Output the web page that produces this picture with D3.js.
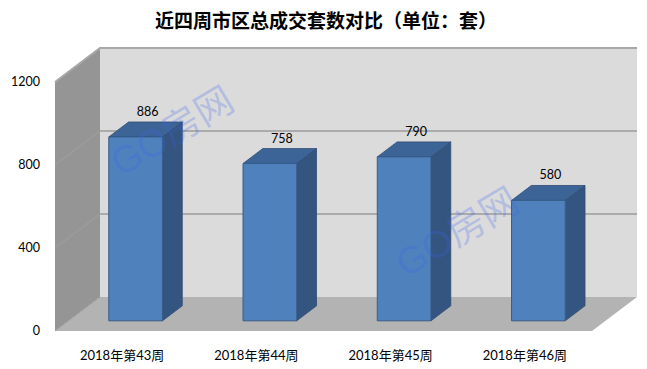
<!DOCTYPE html>
<html>
<head>
<meta charset="utf-8">
<script src="https://d3js.org/d3.v7.min.js"></script>
<style>
  body { margin: 0; background: #fff; }
  svg { display: block; }
</style>
</head>
<body>
<div id="chart"></div>
<script>
// data
var categories = ["2018年第43周", "2018年第44周", "2018年第45周", "2018年第46周"];
var values = [886, 758, 790, 580];
var yTicks = [0, 400, 800, 1200];
var title = "近四周市区总成交套数对比（单位：套）";
var watermark = "GO房网";

var width = 647, height = 369;

// front plane of the 3D box
var x0 = 55, x1 = 592, yBottom = 331, yTop = 82;
// depth offset of the back wall
var depthX = 45, depthY = 34;

var svg = d3.select("#chart").append("svg")
  .attr("width", width)
  .attr("height", height);

var x = d3.scaleBand().domain(categories).range([x0, x1]).paddingInner(0).paddingOuter(0);
var y = d3.scaleLinear().domain([0, 1200]).range([yBottom, yTop]);

// project a front-plane point back by depth fraction d
function P(px, py, d) { return [px + d * depthX, py - d * depthY]; }
function poly(pts) { return "M" + pts.map(function(p) { return p.join(","); }).join("L") + "Z"; }

var yMax = y(1200), y0 = y(0);

// back wall
svg.append("path")
  .attr("d", poly([P(x0, yMax, 1), P(x1, yMax, 1), P(x1, y0, 1), P(x0, y0, 1)]))
  .attr("fill", "#dbdbdb");

// side wall
svg.append("path")
  .attr("d", poly([P(x0, yMax, 0), P(x0, yMax, 1), P(x0, y0, 1), P(x0, y0, 0)]))
  .attr("fill", "#959595");

// floor
svg.append("path")
  .attr("d", poly([P(x0, y0, 0), P(x0, y0, 1), P(x1, y0, 1), P(x1, y0, 0)]))
  .attr("fill", "#b3b3b3");

// gridlines on back and side walls
yTicks.forEach(function(t) {
  if (t === 0) return;
  var a = P(x0, y(t), 0), b = P(x0, y(t), 1), c = P(x1, y(t), 1);
  svg.append("path")
    .attr("d", "M" + a.join(",") + "L" + b.join(",") + "L" + c.join(","))
    .attr("fill", "none")
    .attr("stroke", t === 1200 ? "#a8a8a8" : "#9c9c9c")
    .attr("stroke-width", t === 1200 ? 2 : 1.5);
});

// bottom edge of side wall / floor front
svg.append("path")
  .attr("d", "M" + P(x0, y0, 1).join(",") + "L" + P(x0, y0, 0).join(","))
  .attr("stroke", "#a0a0a0").attr("fill", "none");

// y axis labels
svg.selectAll(".ylab").data(yTicks).enter().append("text")
  .attr("x", 40)
  .attr("y", function(d) { return y(d); })
  .attr("dy", "0.35em")
  .attr("text-anchor", "end")
  .attr("font-family", "Lato, 'Liberation Sans', sans-serif")
  .attr("font-size", 12.5)
  .attr("fill", "#000")
  .text(function(d) { return d; });

// bars
var dFront = 0.3, dBack = 0.74, barFrac = 0.4;
var bars = svg.selectAll(".bar").data(values).enter().append("g");

bars.each(function(v, i) {
  var g = d3.select(this);
  var c = x(categories[i]) + x.bandwidth() / 2;
  var w = x.bandwidth() * barFrac;
  var l = c - w / 2, r = c + w / 2;
  var top = y(v);
  // side face
  g.append("path")
    .attr("d", poly([P(r, top, dFront), P(r, top, dBack), P(r, y0, dBack), P(r, y0, dFront)]))
    .attr("fill", "#34557f").attr("stroke", "#2e4c73").attr("stroke-width", 0.8);
  // top face
  g.append("path")
    .attr("d", poly([P(l, top, dFront), P(l, top, dBack), P(r, top, dBack), P(r, top, dFront)]))
    .attr("fill", "#3d6496").attr("stroke", "#2e4c73").attr("stroke-width", 0.8);
  // front face
  g.append("path")
    .attr("d", poly([P(l, top, dFront), P(r, top, dFront), P(r, y0, dFront), P(l, y0, dFront)]))
    .attr("fill", "#4f81bd").attr("stroke", "#385d8a").attr("stroke-width", 1);
  // value label
  var lp = P(c, top, (dFront + dBack) / 2);
  g.append("text")
    .attr("x", lp[0] + 2)
    .attr("y", P(c, top, dBack)[1] - 6)
    .attr("text-anchor", "middle")
    .attr("font-family", "Lato, 'Liberation Sans', sans-serif")
    .attr("font-size", 12.5)
    .attr("fill", "#000")
    .text(v);
});

// category labels
svg.selectAll(".xlab").data(categories).enter().append("text")
  .attr("x", function(d) { return x(d) + x.bandwidth() / 2; })
  .attr("y", 360)
  .attr("text-anchor", "middle")
  .attr("font-family", "Lato, 'Noto Sans CJK SC', sans-serif")
  .attr("font-size", 13)
  .attr("fill", "#000")
  .text(function(d) { return d; });

// title
svg.append("text")
  .attr("x", 326)
  .attr("y", 28)
  .attr("text-anchor", "middle")
  .attr("font-family", "'Noto Sans CJK SC', sans-serif")
  .attr("font-weight", "bold")
  .attr("font-size", 19)
  .attr("fill", "#000")
  .text(title);

// watermarks
[[172, 131], [457, 232]].forEach(function(p) {
  svg.append("text")
    .attr("transform", "translate(" + p[0] + "," + p[1] + ") rotate(-31)")
    .attr("text-anchor", "middle")
    .attr("dy", "0.35em")
    .attr("font-family", "'Liberation Sans', 'Noto Sans CJK SC', sans-serif")
    .attr("font-size", 38)
    .attr("fill", "rgba(60,100,235,0.25)")
    .text(watermark);
});
</script>
</body>
</html>
